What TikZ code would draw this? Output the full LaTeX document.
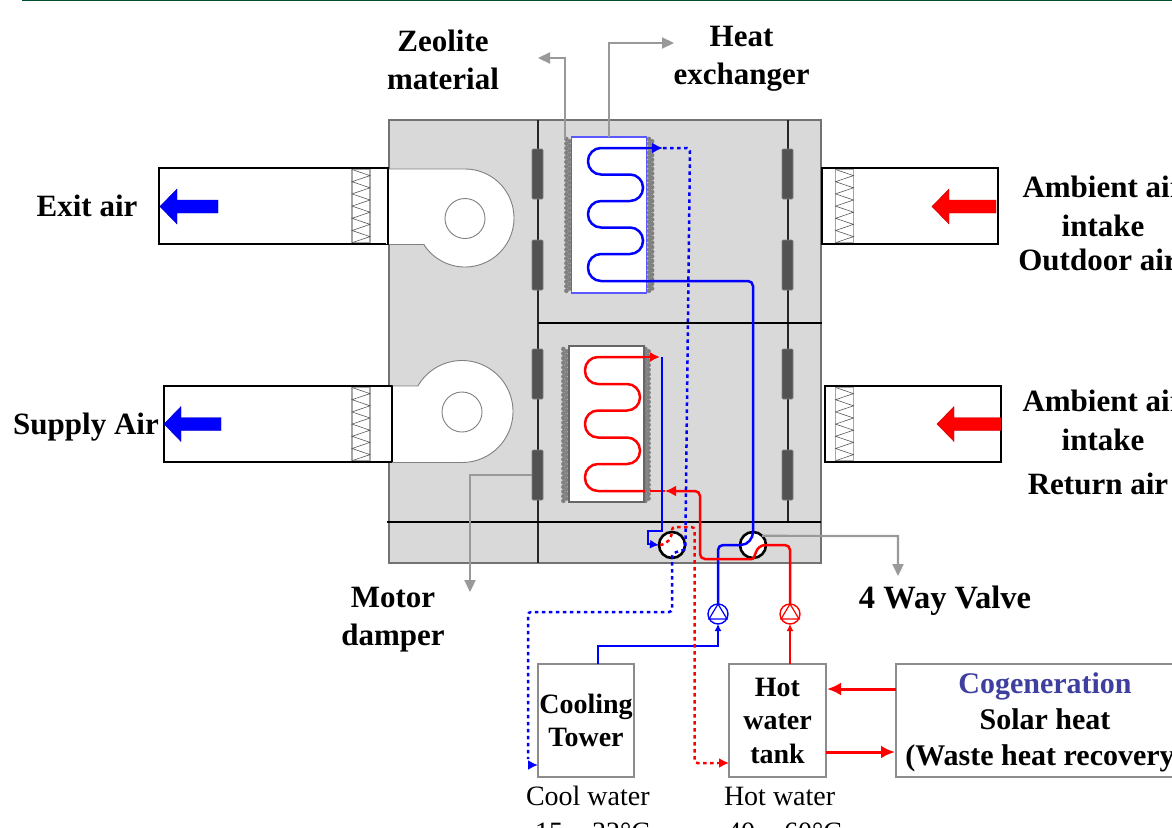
\documentclass[tikz,border=0pt]{standalone}
\usepackage{fontspec}
\setmainfont{Liberation Serif}
\usetikzlibrary{arrows.meta,shapes.geometric}
\definecolor{housing}{HTML}{D9D9D9}
\definecolor{leader}{HTML}{999999}
\definecolor{topgreen}{HTML}{00502E}
\definecolor{cogen}{HTML}{3F3FA0}
\newcommand{\fontB}{\fontsize{31}{38}\selectfont\bfseries}
\newcommand{\fontC}{\fontsize{28}{33.5}\selectfont\bfseries}
\newcommand{\fontD}{\fontsize{30}{36}\selectfont\bfseries}
\newcommand{\zigzag}[2]{% left x, top y
  \draw[gray!70!black,line width=0.6pt] (#1,#2)
    \foreach \k in {1,...,12}{ -- ({#1+18*mod(\k,2)},{#2+\k*6.1}) };
}
\newcommand{\finset}[3]{% x, ytop, ybot
  \draw[fin] (#1-1.6,#2) -- (#1-1.6,#3);
  \draw[fin,dash phase=2.3pt] (#1+1.6,#2) -- (#1+1.6,#3);
}
\newcommand{\flowarrow}[4]{% colour, x tail, x tip, y
  \fill[#1,draw=#1!75!black,line width=0.4pt]
    (#2,#4-6.5) -- ({#3+17},#4-6.5) -- ({#3+17},#4-17.5) -- (#3,#4) -- ({#3+17},#4+17.5) -- ({#3+17},#4+6.5) -- (#2,#4+6.5) -- cycle;
}
\tikzset{
  every node/.style={inner sep=0pt,outer sep=0pt},
  ductbox/.style={draw=black,line width=2.8pt,fill=white,minimum width=#1,minimum height=76pt},
  filterbox/.style={draw=gray!70,line width=1.2pt,fill=white,minimum width=18pt,minimum height=73pt},
  damperbox/.style={draw=gray,line width=0.6pt,fill=black!68,rounded corners=1pt,minimum width=11pt,minimum height=50pt},
  frameline/.style={draw=black!85,line width=1.6pt},
  fin/.style={draw=black!50,line width=4.6pt,line cap=round,dash pattern=on 0pt off 4.6pt},
  hxbox/.style={draw=#1,line width=1.2pt,fill=white,minimum width=75pt,minimum height=156pt},
  coil/.style={draw=#1,line width=2.5pt,rounded corners=13pt},
  pipe/.style={draw=#1,line width=2.5pt,rounded corners=5pt},
  thinpipe/.style={draw=#1,line width=1.8pt},
  dotpipe/.style={draw=#1,line width=2.5pt,dash pattern=on 3.5pt off 3.5pt,rounded corners=3pt},
  leaderline/.style={draw=leader,line width=2.2pt,-{Triangle[length=12pt,width=11pt]}},
  valve/.style={circle,draw=black,line width=2.6pt,fill=white,minimum size=26pt},
  pump/.style={circle,draw=#1,line width=1.4pt,fill=white,minimum size=20pt},
  tower/.style={draw=black!45,line width=1.2pt,fill=white,align=center},
  hub/.style={circle,draw=gray,line width=0.9pt,fill=white,minimum size=40pt},
  lab/.style={anchor=base,font=\fontB,align=center,text=black},
  tip/.style={-{Latex[length=#1,width=#1]}},
}
\begin{document}
\begin{tikzpicture}[x=1pt,y=-1pt]
\useasboundingbox (0,0) rectangle (1172,827);
\clip (0,0) rectangle (1172,827);
\draw[topgreen,line width=2.4pt] (22,0) -- (1172,0);

% housing
\node[draw=black!55,line width=1.2pt,fill=housing,minimum width=432pt,minimum height=443pt] (housing) at (605,341.5) {};

% ducts and filters
\node[ductbox=229pt] (ductUL) at (273.5,206) {};
\node[ductbox=228pt] (ductLL) at (278,424) {};
\node[ductbox=176pt] (ductUR) at (910,206) {};
\node[ductbox=176pt] (ductLR) at (913,424) {};
\node[filterbox] (filterUL) at (361,206) {};
\node[filterbox] (filterLL) at (361,424) {};
\node[filterbox] (filterUR) at (844.5,206) {};
\node[filterbox] (filterLR) at (844.5,424) {};
\zigzag{352}{169.5}
\zigzag{352}{387.5}
\zigzag{835.5}{169.5}
\zigzag{835.5}{387.5}

% fans
\draw[draw=gray,line width=0.9pt,fill=white] (389,169) -- (465,169)
  -- plot[smooth,domain=-90:147,samples=40] ({465+49*cos(\x)},{218+49*sin(\x)})
  -- (424,244.5) -- (389,244.5);
\fill[white] (386,170) rectangle (391,243.5);
\draw[draw=gray,line width=0.9pt,fill=white] (392,386) -- (418,386)
  -- plot[smooth,domain=-150:90,samples=40] ({462+51*cos(\x)},{411.5+51*sin(\x)})
  -- (392,462.5);
\fill[white] (390,387.5) rectangle (393.5,461);
\node[hub] (hubU) at (465,218.5) {};
\node[hub] (hubL) at (462,412) {};
\draw[black,line width=2.8pt] (388,168) -- (388,244);
\draw[black,line width=2.8pt] (392,386) -- (392,462);

% dividers
\coordinate (divTL) at (538,120);
\coordinate (divBL) at (538,563);
\coordinate (divTR) at (788,120);
\coordinate (divBR) at (788,522);
\draw[frameline] (divTL) -- (divBL);
\draw[frameline] (divTR) -- (divBR);
\draw[black,line width=1.5pt] (538,323) -- (822,323);
\draw[black,line width=1.5pt] (387,522) -- (821,522);

% dampers
\node[damperbox] (dampA) at (537.5,174) {};
\node[damperbox] (dampB) at (537.5,265) {};
\node[damperbox] (dampC) at (537.5,374) {};
\node[damperbox] (dampD) at (537.5,475) {};
\node[damperbox] (dampE) at (787.5,174) {};
\node[damperbox] (dampF) at (787.5,265) {};
\node[damperbox] (dampG) at (787.5,374) {};
\node[damperbox] (dampH) at (787.5,475) {};

% heat exchangers
\finset{568}{139}{292}
\finset{650.5}{139}{292}
\finset{565}{349}{502}
\finset{647}{349}{502}
\node[hxbox=blue!65] (hxU) at (609,215) {};
\node[hxbox=black!60] (hxL) at (606.5,424) {};

% leaders
\coordinate (zeoliteTip) at (538,58);
\coordinate (zeoliteBend) at (565,58);
\coordinate (hxTip) at (674,43);
\coordinate (hxBend) at (609,43);
\coordinate (motorBend) at (470,475);
\coordinate (motorTip) at (470,592);
\coordinate (vwBend) at (898,536);
\coordinate (vwTip) at (898,576);
\draw[leaderline] (565,139) -- (zeoliteBend) -- (zeoliteTip);
\draw[leaderline] (hxU.north) -- (hxBend) -- (hxTip);
\draw[leaderline] (dampD.west) -- (motorBend) -- (motorTip);

% coils
\draw[coil=blue] (646,148) -- (588,148) -- (588,174.5) -- (643,174.5) -- (643,201) -- (588,201) -- (588,227.5) -- (643,227.5) -- (643,254) -- (588,254) -- (588,281) -- (648,281);
\draw[coil=red] (644,357) -- (585,357) -- (585,384) -- (640,384) -- (640,410.5) -- (585,410.5) -- (585,437.5) -- (640,437.5) -- (640,464) -- (585,464) -- (585,491) -- (645,491);

% valves and pumps
\node[valve] (valveA) at (672,545) {};
\node[valve] (valveB) at (753,545) {};
\draw[leaderline] (valveB.north east) -- (vwBend) -- (vwTip);
\node[pump=blue] (pumpB) at (718,614) {};
\node[pump=red] (pumpR) at (790,614) {};
\draw[blue,line width=1.2pt] (718,604) -- (727,619) -- (709,619) -- cycle;
\draw[red,line width=1.2pt] (790,604) -- (799,619) -- (781,619) -- cycle;

% lower boxes
\node[tower,minimum width=96pt,minimum height=113pt,font=\fontC] (cooling) at (586,720.5) {Cooling\\Tower};
\node[tower,minimum width=97pt,minimum height=113pt,font=\fontC] (tank) at (777.5,720.5) {Hot\\water\\tank};
\node[tower,minimum width=298pt,minimum height=113pt] (cogen) at (1045,720.5) {};
\node[anchor=base,align=center,font=\fontD] (cogenText) at (1045,765) {\textcolor{cogen}{Cogeneration}\\Solar heat\\(Waste heat recovery)};

% pipes: exchanger outlets
\coordinate (uTipA) at (663,148);
\coordinate (uBend) at (690,148);
\coordinate (lTipA) at (660,357);
\draw[blue,line width=2.5pt,tip=11pt] (646,148) -- (uTipA);
\draw[red,line width=2.5pt,tip=10pt] (644,357) -- (lTipA);

% cold side supply (solid blue)
\draw[pipe=blue] (648,281) -- (753,281) -- (valveB.north);
\draw[blue,line width=2.5pt] (valveB.north) .. controls (753,538) and (748,545) .. (741,545);
\draw[pipe=blue] (741,545) -- (718,545) -- (pumpB.north);
\coordinate (coolBendA) at (718,646);
\coordinate (coolBendB) at (598,646);
\draw[thinpipe=blue,tip=7pt] (598,664) -- (coolBendB) -- (coolBendA) -- (pumpB.south);

% hot side supply (solid red)
\coordinate (hotTip) at (665,491);
\draw[pipe=red,tip=11pt] (752,559) -- (700,559) -- (700,491) -- (hotTip);
\draw[red,line width=2.5pt] (665,491) -- (650,491);
\draw[red,line width=2.5pt,rounded corners=0pt] (752,559) .. controls (756,559) and (754,545) .. (766,545);
\draw[pipe=red] (766,545) -- (790,545) -- (pumpR.north);
\draw[thinpipe=red,tip=7pt] (tank.north -| pumpR) -- (pumpR.south);

% return from lower coil end (thin blue)
\coordinate (bypassA) at (662,357);
\coordinate (bypassB) at (662,531);
\coordinate (bypassC) at (648,531);
\coordinate (bypassD) at (648,544);
\draw[thinpipe=blue,tip=9pt] (bypassA) -- (bypassB) -- (bypassC) -- (bypassD) -- (valveA.west);

% dotted returns
\coordinate (cTipIn) at (538,765);
\draw[dotpipe=blue] (uTipA) -- (uBend) -- (685.5,530) -- (685.5,545) .. controls (685,552) and (672,550) .. (672,560) -- (672,612) -- (528,612) -- (528,759);
\draw[blue,line width=2pt,tip=10pt] (528,765) -- (cTipIn);
\draw[dotpipe=red] (660,545) .. controls (668,544) and (672,538) .. (672,527) -- (694.5,527) -- (694.5,763) -- (718,763);
\coordinate (tTipIn) at (tank.west |- 0,763);
\draw[red,line width=2pt,tip=10pt] (718,763) -- (tTipIn);

% cogeneration link
\coordinate (cgIn) at (827,689);
\coordinate (cgOut) at (895,752);
\draw[red,line width=3pt,-{Latex[length=14pt,width=13pt]}] (cogen.west |- cgIn) -- (cgIn);
\draw[red,line width=3pt,-{Latex[length=14pt,width=13pt]}] (tank.east |- cgOut) -- (cgOut);

% air flow arrows
\flowarrow{blue}{218}{160}{206.5}
\flowarrow{blue}{221}{164}{424}
\flowarrow{red}{996}{932}{206.5}
\flowarrow{red}{1001}{937}{424}

% labels
\node[lab] (lZeolite) at (443,89) {Zeolite\\material};
\node[lab] (lHeat) at (741.5,84) {Heat\\exchanger};
\node[lab] (lExit) at (87,216) {Exit air};
\node[lab] (lSupply) at (86,434) {Supply Air};
\node[lab] (lAmbU) at (1103,236) {Ambient air\\[1pt]intake};
\node[lab] (lOutdoor) at (1098,270) {Outdoor air};
\node[lab] (lAmbL) at (1103,450) {Ambient air\\[1pt]intake};
\node[lab] (lReturn) at (1098,494) {Return air};
\node[lab] (lMotor) at (393,645) {Motor\\damper};
\node[lab,font=\fontsize{32.5}{38}\selectfont\bfseries] (lValve) at (945,608) {4 Way Valve};
\node[anchor=base west,font=\fontsize{28}{36}\selectfont] (lCool) at (526,805) {Cool water};
\node[anchor=base west,font=\fontsize{28}{36}\selectfont] (lCoolT) at (535,841) {15 \textasciitilde{} 32°C};
\node[anchor=base west,font=\fontsize{28}{36}\selectfont] (lHot) at (724,805) {Hot water};
\node[anchor=base west,font=\fontsize{28}{36}\selectfont] (lHotT) at (727,841) {40 \textasciitilde{} 60°C};
\end{tikzpicture}
\end{document}
